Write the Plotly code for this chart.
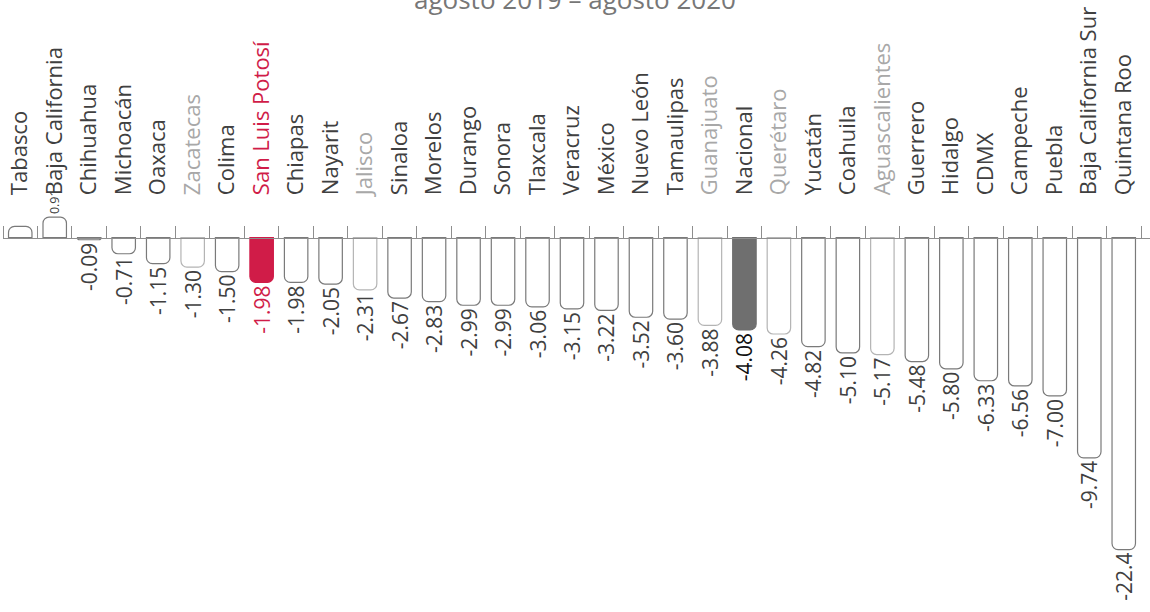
import plotly.graph_objects as go

# ---------------- data ----------------
states = ["Tabasco", "Baja California", "Chihuahua", "Michoacán", "Oaxaca", "Zacatecas",
          "Colima", "San Luis Potosí", "Chiapas", "Nayarit", "Jalisco", "Sinaloa",
          "Morelos", "Durango", "Sonora", "Tlaxcala", "Veracruz", "México",
          "Nuevo León", "Tamaulipas", "Guanajuato", "Nacional", "Querétaro", "Yucatán",
          "Coahuila", "Aguascalientes", "Guerrero", "Hidalgo", "CDMX", "Campeche",
          "Puebla", "Baja California Sur", "Quintana Roo"]
values = [0.5, 0.91, -0.09, -0.71, -1.15, -1.30,
          -1.50, -1.98, -1.98, -2.05, -2.31, -2.67,
          -2.83, -2.99, -2.99, -3.06, -3.15, -3.22,
          -3.52, -3.60, -3.88, -4.08, -4.26, -4.82,
          -5.10, -5.17, -5.48, -5.80, -6.33, -6.56,
          -7.00, -9.74, -22.4]
value_labels = ["", "0.91", "-0.09", "-0.71", "-1.15", "-1.30",
                "-1.50", "-1.98", "-1.98", "-2.05", "-2.31", "-2.67",
                "-2.83", "-2.99", "-2.99", "-3.06", "-3.15", "-3.22",
                "-3.52", "-3.60", "-3.88", "-4.08", "-4.26", "-4.82",
                "-5.10", "-5.17", "-5.48", "-5.80", "-6.33", "-6.56",
                "-7.00", "-9.74", "-22.4"]
highlight = "San Luis Potosí"
national = "Nacional"
muted = ["Zacatecas", "Jalisco", "Guanajuato", "Querétaro", "Aguascalientes"]
title_text = "agosto 2019 – agosto 2020"

# ---------------- style ----------------
W, H = 1150, 612
FONT = "Open Sans"
CRIMSON = "#D01C48"
NAT_GRAY = "#6f6f6f"
DARK = "#404040"
LIGHT = "#a8a8a8"
OUTLINE = "#7a7a7a"
OUTLINE_LIGHT = "#b4b4b4"
AXIS = "#8e8e8e"

# outlier bar drawn truncated (broken bar), as in the reference
TRUNC = -13.8
display_values = [max(v, TRUNC) for v in values]

PX_PER_UNIT = 22.6
ZERO_PX = 237.7
ML, MR = 3, 0
ymax = ZERO_PX / PX_PER_UNIT
ymin = -(H - ZERO_PX) / PX_PER_UNIT
zero_frac = (0 - ymin) / (ymax - ymin)
slot_px = 34.48
x_extra = 9 / slot_px

fills, lines, tcolors, tsizes, ticktext = [], [], [], [], []
for s, v in zip(states, values):
    if s == highlight:
        fills.append(CRIMSON); lines.append(CRIMSON); tcolors.append(CRIMSON)
        ticktext.append(f"<span style='color:{CRIMSON}'>{s}</span>")
    elif s == national:
        fills.append(NAT_GRAY); lines.append(NAT_GRAY); tcolors.append("#111111")
        ticktext.append(s)
    elif s in muted:
        fills.append("white"); lines.append(OUTLINE_LIGHT); tcolors.append(DARK)
        ticktext.append(f"<span style='color:{LIGHT}'>{s}</span>")
    else:
        fills.append("white"); lines.append(OUTLINE); tcolors.append(DARK)
        ticktext.append(s)
    tsizes.append(12.5 if v > 0 else 21)

fig = go.Figure(go.Bar(
    x=states, y=display_values,
    text=value_labels, textposition="outside", textangle=-90,
    textfont=dict(family=FONT, size=tsizes, color=tcolors),
    constraintext="none", cliponaxis=False,
    marker=dict(color=fills, line=dict(color=lines, width=1.2), cornerradius=6),
    width=0.68, hoverinfo="skip",
))

fig.update_layout(
    width=W, height=H,
    margin=dict(l=ML, r=MR, t=0, b=0),
    paper_bgcolor="white", plot_bgcolor="white",
    showlegend=False,
    title=dict(text=title_text, x=0.5, xanchor="center",
               y=1 - 9 / H, yanchor="bottom", yref="container",
               font=dict(family=FONT, size=26, color="#777777")),
    xaxis=dict(type="category", categoryorder="array", categoryarray=states,
               range=[-0.5, len(states) - 0.5 + x_extra],
               side="top", anchor="free", position=zero_frac,
               tickmode="array", tickvals=states, ticktext=ticktext,
               tickangle=-90, tickson="boundaries", ticks="outside",
               ticklen=12, tickwidth=1, tickcolor=AXIS,
               showline=True, linecolor=AXIS, linewidth=1.3,
               ticklabelstandoff=38,
               tickfont=dict(family=FONT, size=22, color=DARK),
               showgrid=False, zeroline=False, automargin=False),
    yaxis=dict(range=[ymin, ymax], visible=False, showgrid=False,
               zeroline=False, fixedrange=True),
)

# the page's default body margin would offset the chart by 8px
fig.write_html("out.html", config={"displayModeBar": False},
               post_script="document.body.style.margin='0px';")
